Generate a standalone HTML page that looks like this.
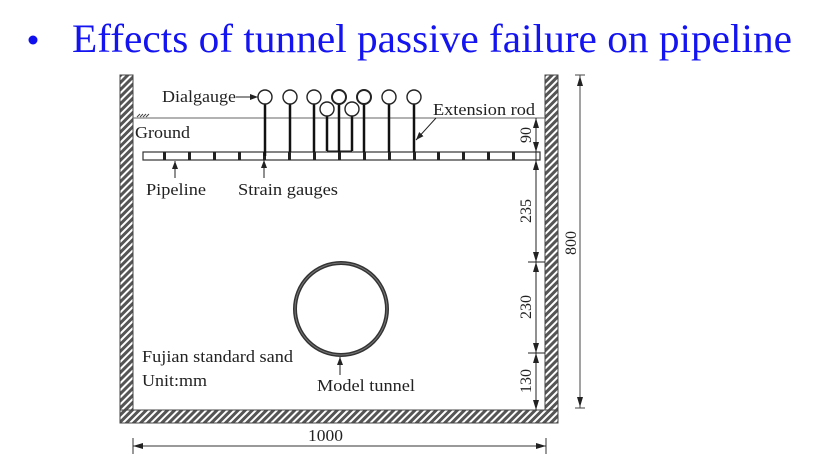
<!DOCTYPE html>
<html><head><meta charset="utf-8"><style>
html,body{margin:0;padding:0;background:#fff;width:821px;height:461px;overflow:hidden}
svg{display:block}
</style></head><body>
<svg width="821" height="461" viewBox="0 0 821 461" xmlns="http://www.w3.org/2000/svg" font-family="Liberation Serif, serif">
<defs>
<pattern id="h" patternUnits="userSpaceOnUse" width="5" height="5" patternTransform="rotate(45)">
<rect width="5" height="5" fill="#555"/><rect width="2" height="5" fill="#fff"/>
</pattern>
<marker id="a" markerWidth="8" markerHeight="6" refX="8" refY="3" orient="auto" markerUnits="userSpaceOnUse"><path d="M0,0 L8,3 L0,6 z" fill="#222"/></marker>
</defs>
<circle cx="33" cy="40" r="4.5" fill="#1010ee"/>
<text x="72" y="52" font-size="40" fill="#1414f0" textLength="720" lengthAdjust="spacingAndGlyphs">Effects of tunnel passive failure on pipeline</text>

<!-- walls -->
<rect x="120" y="75" width="13" height="348" fill="url(#h)" stroke="#444" stroke-width="1"/>
<rect x="545" y="75" width="13" height="348" fill="url(#h)" stroke="#444" stroke-width="1"/>
<rect x="120" y="410" width="438" height="13" fill="url(#h)" stroke="#444" stroke-width="1"/>

<!-- ground -->
<line x1="133" y1="118" x2="545" y2="118" stroke="#666" stroke-width="1"/>
<path d="M137,117 l3,-3 M140,117 l3,-3 M143,117 l3,-3 M146,117 l3,-3" stroke="#444" stroke-width="1"/>
<g font-size="17" fill="#222" lengthAdjust="spacingAndGlyphs">
<text x="135" y="138" textLength="55" lengthAdjust="spacingAndGlyphs">Ground</text>
<text x="162" y="102" textLength="74" lengthAdjust="spacingAndGlyphs">Dialgauge</text>
<text x="433" y="115" textLength="102" lengthAdjust="spacingAndGlyphs">Extension rod</text>
<text x="146" y="195" textLength="60" lengthAdjust="spacingAndGlyphs">Pipeline</text>
<text x="238" y="195" textLength="100" lengthAdjust="spacingAndGlyphs">Strain gauges</text>
<text x="317" y="391" textLength="98" lengthAdjust="spacingAndGlyphs">Model tunnel</text>
<text x="142" y="362" textLength="151" lengthAdjust="spacingAndGlyphs">Fujian standard sand</text>
<text x="142" y="386" textLength="65" lengthAdjust="spacingAndGlyphs">Unit:mm</text>
<text x="308" y="441" textLength="35" lengthAdjust="spacingAndGlyphs">1000</text>
</g>

<!-- pipeline -->
<rect x="143" y="152" width="397" height="8" fill="#fff" stroke="#333" stroke-width="1.2"/>
<g fill="#222">
<rect x="163" y="152" width="3" height="8"/><rect x="188" y="152" width="3" height="8"/><rect x="213" y="152" width="3" height="8"/><rect x="238" y="152" width="3" height="8"/><rect x="263" y="152" width="3" height="8"/><rect x="288" y="152" width="3" height="8"/><rect x="313" y="152" width="3" height="8"/><rect x="338" y="152" width="3" height="8"/><rect x="363" y="152" width="3" height="8"/><rect x="388" y="152" width="3" height="8"/><rect x="413" y="152" width="3" height="8"/><rect x="437" y="152" width="3" height="8"/><rect x="462" y="152" width="3" height="8"/><rect x="487" y="152" width="3" height="8"/><rect x="512" y="152" width="3" height="8"/>
</g>

<!-- rods -->
<g stroke="#111" stroke-width="2.5">
<line x1="265" y1="104" x2="265" y2="156"/>
<line x1="290" y1="104" x2="290" y2="152"/>
<line x1="314" y1="104" x2="314" y2="152"/>
<line x1="339" y1="104" x2="339" y2="152"/>
<line x1="364" y1="104" x2="364" y2="152"/>
<line x1="389" y1="104" x2="389" y2="152"/>
<line x1="414" y1="104" x2="414" y2="152"/>
<line x1="327" y1="116" x2="327" y2="151"/>
<line x1="352" y1="116" x2="352" y2="151"/>
</g>
<line x1="327" y1="151" x2="352" y2="151" stroke="#111" stroke-width="1"/>
<g fill="#fff" stroke="#222" stroke-width="1.4">
<circle cx="265" cy="97" r="7"/><circle cx="290" cy="97" r="7"/><circle cx="314" cy="97" r="7"/>
<circle cx="339" cy="97" r="7" stroke-width="2"/><circle cx="364" cy="97" r="7" stroke-width="2"/>
<circle cx="389" cy="97" r="7"/><circle cx="414" cy="97" r="7"/>
<circle cx="327" cy="109" r="7"/><circle cx="352" cy="109" r="7"/>
</g>
<line x1="236" y1="97" x2="258" y2="97" stroke="#222" marker-end="url(#a)"/>
<line x1="436" y1="118" x2="416" y2="140" stroke="#222" marker-end="url(#a)"/>
<line x1="175" y1="178" x2="175" y2="161" stroke="#222" marker-end="url(#a)"/>
<line x1="264" y1="178" x2="264" y2="160" stroke="#222" marker-end="url(#a)"/>

<!-- tunnel -->
<circle cx="341" cy="309" r="46" fill="none" stroke="#333" stroke-width="4"/>
<circle cx="341" cy="309" r="46" fill="none" stroke="#777" stroke-width="1"/>
<line x1="340" y1="375" x2="340" y2="357" stroke="#222" marker-end="url(#a)"/>

<!-- right dims -->
<g stroke="#222" stroke-width="1">
<line x1="536" y1="118" x2="536" y2="410"/>
<line x1="528" y1="262" x2="545" y2="262"/>
<line x1="528" y1="353" x2="545" y2="353"/>
</g>
<g fill="#222">
<path d="M533,128 L536,118 L539,128z"/><path d="M533,142 L536,152 L539,142z"/>
<path d="M533,170 L536,160 L539,170z"/><path d="M533,252 L536,262 L539,252z"/>
<path d="M533,272 L536,262 L539,272z"/><path d="M533,343 L536,353 L539,343z"/>
<path d="M533,363 L536,353 L539,363z"/><path d="M533,400 L536,410 L539,400z"/>
</g>
<g font-size="16" fill="#222">
<text transform="translate(531,135) rotate(-90)" text-anchor="middle">90</text>
<text transform="translate(531,211) rotate(-90)" text-anchor="middle">235</text>
<text transform="translate(531,307) rotate(-90)" text-anchor="middle">230</text>
<text transform="translate(531,381) rotate(-90)" text-anchor="middle">130</text>
<text transform="translate(576,243) rotate(-90)" text-anchor="middle">800</text>
</g>
<line x1="580" y1="75" x2="580" y2="408" stroke="#444"/>
<line x1="575" y1="75" x2="585" y2="75" stroke="#444"/>
<line x1="575" y1="408" x2="585" y2="408" stroke="#444"/>
<path d="M577,86 L580,76 L583,86z M577,397 L580,407 L583,397z" fill="#222"/>

<!-- bottom dim -->
<line x1="133" y1="446" x2="546" y2="446" stroke="#333"/>
<line x1="133" y1="438" x2="133" y2="454" stroke="#333"/>
<line x1="546" y1="438" x2="546" y2="454" stroke="#333"/>
<path d="M143,443 L133,446 L143,449z M536,443 L546,446 L536,449z" fill="#222"/>
</svg>
</body></html>
